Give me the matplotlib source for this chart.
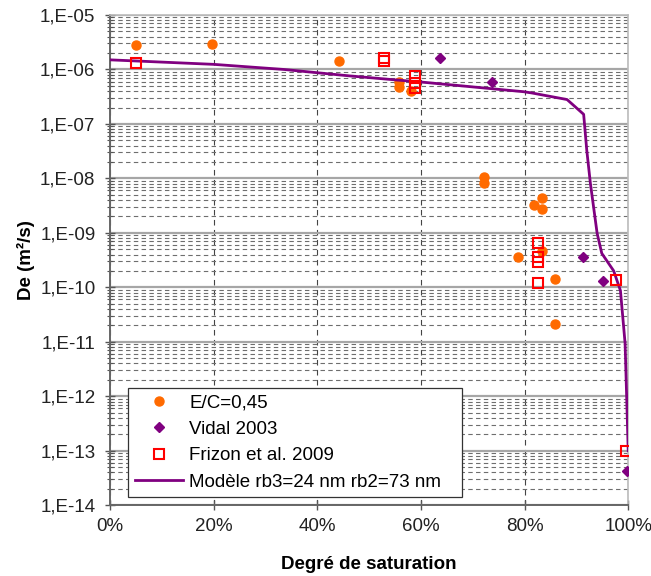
import numpy as np
import matplotlib
matplotlib.use('agg')
import matplotlib.pyplot as plt
from matplotlib.ticker import LogLocator, FixedLocator, FuncFormatter, NullFormatter

plt.rcParams['font.family'] = ['Liberation Sans', 'DejaVu Sans']

# E/C=0,45 data (saturation %, De m2/s)
ec_sat = [5, 19.6, 44.1, 55.7, 55.7, 58.0, 72.1, 72.1, 81.9, 83.4, 83.4, 83.4, 78.8, 85.9, 85.9]
ec_de = [2.8e-6, 2.9e-6, 1.45e-6, 5.9e-7, 4.8e-7, 4.1e-7, 1.07e-8, 8.1e-9, 3.2e-9, 4.3e-9,
         2.7e-9, 4.7e-10, 3.6e-10, 1.45e-10, 2.15e-11]

# Vidal 2003
vidal_sat = [63.7, 73.8, 91.2, 95.1, 99.8]
vidal_de = [1.6e-6, 5.9e-7, 3.6e-10, 1.3e-10, 4.2e-14]

# Frizon et al. 2009
frizon_sat = [5, 52.8, 52.8, 58.9, 58.9, 58.9, 82.6, 82.6, 82.6, 82.6, 97.6, 99.6]
frizon_de = [1.29e-6, 1.65e-6, 1.4e-6, 7.6e-7, 5.6e-7, 4.6e-7, 6.5e-10, 3.6e-10, 2.9e-10,
             1.2e-10, 1.38e-10, 1.0e-13]

# Model rb3=24 nm rb2=73 nm
model_sat = [0, 20, 33.5, 40, 46.3, 55.3, 59.8, 79.8, 81.4, 88.2, 91.4, 92.0, 92.7, 94.0,
             94.9, 97.2, 98.5, 99.4, 100]
model_de = [1.5e-6, 1.24e-6, 1.0e-6, 8.7e-7, 7.6e-7, 6.4e-7, 5.9e-7, 3.9e-7, 3.7e-7, 2.8e-7,
            1.5e-7, 3.3e-8, 8.1e-9, 9.8e-10, 4.2e-10, 2.0e-10, 8.7e-11, 9.3e-12, 1.0e-13]

x_ticks = [0, 20, 40, 60, 80, 100]


def main():
	fig = plt.figure(figsize=(6.51, 5.76), dpi=100)
	ax = fig.add_axes([0.169, 0.123, 0.796, 0.851])

	ax.set_yscale('log')
	ax.set_xlim(0, 100)
	ax.set_ylim(1e-14, 1e-5)

	# grid lines like the spreadsheet chart
	ax.yaxis.set_major_locator(LogLocator(base=10, numticks=20))
	ax.yaxis.set_minor_locator(LogLocator(base=10, subs=np.arange(2, 10), numticks=20))
	ax.yaxis.set_major_formatter(FuncFormatter(lambda v, p: '1,E-%02d' % round(-np.log10(v))))
	ax.yaxis.set_minor_formatter(NullFormatter())
	ax.xaxis.set_major_locator(FixedLocator(x_ticks))
	ax.xaxis.set_major_formatter(FuncFormatter(lambda v, p: '%d%%' % v))

	ax.grid(True, which='major', axis='y', color='#a6a6a6', lw=1.6, ls='-')
	ax.grid(True, which='minor', axis='y', color='#6e6e6e', lw=0.8, ls=(0, (4, 3)))
	ax.grid(True, which='major', axis='x', color='#444444', lw=0.8, ls=(0, (5, 4)))
	ax.set_axisbelow(True)

	ax.tick_params(axis='both', which='major', direction='inout', length=7, width=1,
				   color='#555555', labelsize=13.5, labelcolor='#222222')
	ax.tick_params(axis='y', which='minor', direction='inout', length=5, width=0.8, color='#555555')
	ax.tick_params(axis='x', pad=6)
	ax.tick_params(axis='y', pad=7)

	for side in ['left', 'bottom']:
		ax.spines[side].set_color('#666666')
		ax.spines[side].set_linewidth(1.4)
	for side in ['top', 'right']:
		ax.spines[side].set_color('#bbbbbb')
		ax.spines[side].set_linewidth(1.2)

	ax.plot(ec_sat, ec_de, 'o', color='#ff6a00', ms=6.5, mec='#ff6a00', ls='none',
			label='E/C=0,45', zorder=3)
	ax.plot(vidal_sat, vidal_de, 'D', color='#800080', ms=5, ls='none',
			label='Vidal 2003', zorder=4)
	ax.plot(frizon_sat, frizon_de, 's', mfc='none', mec='#ff0000', mew=1.5, ms=7, ls='none',
			label='Frizon et al. 2009', zorder=5)
	ax.plot(model_sat, model_de, '-', color='#800080', lw=2, label='Modèle rb3=24 nm rb2=73 nm',
			zorder=4)

	ax.set_xlabel('Degré de saturation', fontsize=13.5, fontweight='bold', labelpad=15)
	ax.set_ylabel('De (m²/s)', fontsize=13.5, fontweight='bold', labelpad=4)

	# legend box stretched to the width of the original
	leg = ax.legend(loc='lower left', bbox_to_anchor=(0.035, 0.016, 0.645, 0.2), mode='expand',
					borderaxespad=0, fontsize=13.5, fancybox=False, framealpha=1,
					edgecolor='#333333', handlelength=2.6, handletextpad=0.3, borderpad=0.35,
					labelspacing=0.5)
	leg.get_frame().set_linewidth(0.9)

	fig.savefig('out.png', dpi=100)


if __name__ == '__main__':
	main()
